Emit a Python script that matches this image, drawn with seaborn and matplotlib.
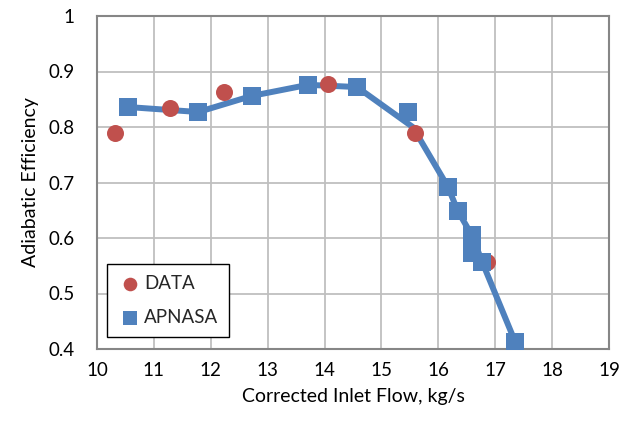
import matplotlib
matplotlib.use("Agg")
import matplotlib.pyplot as plt
import seaborn as sns
import pandas as pd

# Measured efficiency points
data_flow = [10.32, 11.28, 12.23, 14.06, 15.59, 16.85]
data_eff = [0.789, 0.834, 0.863, 0.877, 0.789, 0.557]

# APNASA simulation points
apnasa_flow = [10.54, 11.78, 12.72, 13.71, 14.57, 15.47, 16.17, 16.34, 16.59, 16.59, 16.77, 17.35]
apnasa_eff = [0.836, 0.827, 0.856, 0.876, 0.872, 0.827, 0.692, 0.649, 0.605, 0.573, 0.557, 0.413]

# APNASA speed line
line_flow = [10.54, 11.78, 12.72, 13.71, 14.57, 15.55, 16.17, 16.34, 16.59, 16.77, 17.35]
line_eff = [0.836, 0.827, 0.856, 0.876, 0.872, 0.800, 0.692, 0.649, 0.605, 0.557, 0.413]

x_ticks = list(range(10, 20))
y_ticks = [0.4, 0.5, 0.6, 0.7, 0.8, 0.9, 1.0]
y_tick_labels = ["0.4", "0.5", "0.6", "0.7", "0.8", "0.9", "1"]

red = "#C0504D"
blue = "#4F81BD"

sns.set_theme(style="whitegrid")
plt.rcParams["font.family"] = ["Lato", "DejaVu Sans"]

fig = plt.figure(figsize=(6.37, 4.29), dpi=100)
ax = fig.add_axes([97 / 637, 1 - 349 / 429, 512 / 637, 333 / 429])

line_df = pd.DataFrame({"flow": line_flow, "eff": line_eff})
data_df = pd.DataFrame({"flow": data_flow, "eff": data_eff})
apnasa_df = pd.DataFrame({"flow": apnasa_flow, "eff": apnasa_eff})

sns.lineplot(data=line_df, x="flow", y="eff", sort=False, color=blue,
             linewidth=4.3, ax=ax, zorder=2, legend=False)
sns.scatterplot(data=data_df, x="flow", y="eff", color=red, marker="o",
                s=150, linewidth=0, ax=ax, zorder=3, label="DATA")
sns.scatterplot(data=apnasa_df, x="flow", y="eff", color=blue, marker="s",
                s=150, linewidth=0, ax=ax, zorder=4, label="APNASA")

ax.set_xlim(10, 19)
ax.set_ylim(0.4, 1.0)
ax.set_xticks(x_ticks)
ax.set_yticks(y_ticks)
ax.set_yticklabels(y_tick_labels)
ax.tick_params(axis="both", length=0, labelsize=13.5, colors="black")
ax.tick_params(axis="x", pad=9)
ax.tick_params(axis="y", pad=16)

ax.grid(True, color="#BFBFBF", linewidth=1.3)
ax.set_axisbelow(True)
for sp in ax.spines.values():
    sp.set_visible(True)
    sp.set_color("#868686")
    sp.set_linewidth(1.5)

ax.set_xlabel("Corrected Inlet Flow, kg/s", fontsize=14, color="black", labelpad=7)
ax.set_ylabel("Adiabatic Efficiency", fontsize=14, color="black", labelpad=7)

leg = ax.legend(loc="lower left", bbox_to_anchor=(0.02, 0.036), fontsize=13.5,
                frameon=True, fancybox=False, borderpad=0.6, labelspacing=0.9,
                handletextpad=0.15, handlelength=1.2, borderaxespad=0,
                markerscale=0.8)
leg.get_frame().set_edgecolor("black")
leg.get_frame().set_linewidth(1.0)
leg.get_frame().set_alpha(1)

fig.savefig("out.png", dpi=100, facecolor="white")
